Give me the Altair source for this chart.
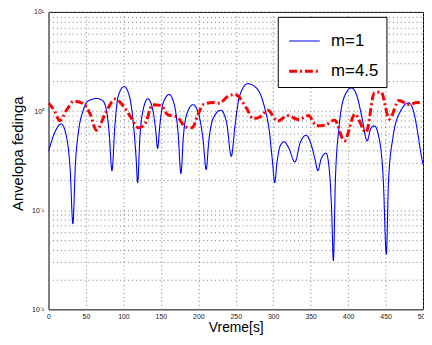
import altair as alt
import pandas as pd

series_names = ["m=1", "m=4.5"]

x_m1 = [0, 8, 17, 24, 29, 32.5, 36, 40, 46, 52, 64, 72, 77, 81, 84.7,
        88.6, 93, 101, 108, 113.6, 117, 119, 122, 126, 132.5, 139, 143, 145.7,
        148.5, 153, 161, 168, 173, 176.8, 180, 185, 193, 201, 206.5, 210.5,
        214, 220, 230, 238, 244, 249, 255, 266, 279.5, 288, 295, 299, 302,
        305, 309, 314.5, 321, 329, 336, 344, 351, 356, 359.7, 364, 370.6,
        375, 378, 380.3, 383, 388, 395, 404.5, 412, 418, 425.5, 430, 435,
        441, 447, 451, 454, 460, 470, 481, 488, 493, 497, 500]
y_m1 = [0.39, 0.60, 0.74, 0.55, 0.25, 0.073, 0.30, 0.62, 1.0, 1.25, 1.34, 1.28, 1.05, 0.6, 0.25,
        0.71, 1.41, 1.77, 1.41, 0.71, 0.33, 0.19, 0.55, 1.0, 1.33, 1.05, 0.65, 0.42,
        0.7, 1.2, 1.47, 1.15, 0.6, 0.234, 0.55, 0.95, 1.16, 0.9, 0.5, 0.257,
        0.5, 0.85, 1.02, 0.75, 0.35, 0.71, 1.41, 1.89, 1.64, 1.12, 0.61, 0.31, 0.19,
        0.3, 0.44, 0.49, 0.42, 0.306, 0.48, 0.57, 0.45, 0.32, 0.25, 0.33, 0.376,
        0.25, 0.1, 0.031, 0.2, 0.7, 1.4, 1.71, 1.4, 0.9, 0.5, 0.66, 0.71,
        0.55, 0.2, 0.036, 0.2, 0.55, 1.0, 1.21, 0.95, 0.6, 0.38, 0.29]

x_m45 = [0, 8, 15, 24, 34, 47, 56, 64, 76, 89, 100, 109, 120, 128, 139, 150,
         159, 172, 183, 192, 199, 207, 220, 228, 240, 249, 264, 273, 282, 293,
         306, 319, 334, 347, 358, 369, 382, 395, 409, 424, 435, 444, 455, 468,
         481, 492, 500]
y_m45 = [1.21, 1.0, 0.8, 1.02, 1.26, 1.18, 0.92, 0.64, 0.95, 1.32, 1.12, 0.89, 0.68, 0.72, 1.16, 1.14,
         0.92, 0.87, 0.69, 0.68, 0.9, 1.17, 1.22, 1.2, 1.42, 1.47, 1.08, 0.84, 0.87, 1.02,
         0.79, 0.9, 0.82, 0.9, 0.71, 0.72, 0.81, 0.50, 0.93, 0.61, 1.52, 1.56, 0.83, 1.28,
         1.16, 1.22, 1.2]

x_ticks = [0, 50, 100, 150, 200, 250, 300, 350, 400, 450, 500]
y_grid = [0.01, 0.02, 0.03, 0.04, 0.05, 0.06, 0.07, 0.08, 0.09,
          0.1, 0.2, 0.3, 0.4, 0.5, 0.6, 0.7, 0.8, 0.9,
          1, 2, 3, 4, 5, 6, 7, 8, 9, 10]

df = pd.concat([
    pd.DataFrame({"t": x_m1, "v": y_m1, "s": series_names[0]}),
    pd.DataFrame({"t": x_m45, "v": y_m45, "s": series_names[1]}),
])

FONT = "Liberation Sans"

leg = dict(title=None, orient="none", legendX=232, legendY=5,
           strokeColor="black", fillColor="white", padding=8,
           labelFontSize=17, labelFont=FONT, labelColor="black",
           symbolSize=961, symbolType="stroke", labelOffset=10,
           rowPadding=5, cornerRadius=0, symbolOffset=2)

label_expr = ("datum.value == 10 ? '10\u00b9' : datum.value == 1 ? '10\u2070' : "
              "datum.value == 0.1 ? '10\u207b\u00b9' : datum.value == 0.01 ? '10\u207b\u00b2' : ''")

chart = alt.Chart(df).mark_line(interpolate="monotone", clip=True, strokeCap="butt").encode(
    x=alt.X("t:Q", scale=alt.Scale(domain=[0, 500], nice=False, zero=False),
            axis=alt.Axis(values=x_ticks, title="Vreme[s]", grid=True, ticks=False,
                          labelPadding=3, labelFontSize=7, labelFont=FONT, labelColor="#222",
                          titleFont=FONT, titleFontSize=14, titleFontWeight="normal",
                          titleY=22, titleBaseline="alphabetic", titleColor="black",
                          domain=False, labelOverlap=False, labelFlush=False)),
    y=alt.Y("v:Q", scale=alt.Scale(type="log", domain=[0.01, 10], nice=False),
            axis=alt.Axis(values=y_grid, labelExpr=label_expr, title="Anvelopa fedinga",
                          grid=True, ticks=False, labelPadding=5, labelFontSize=7,
                          labelFont=FONT, labelColor="#222", titleFont=FONT,
                          titleFontSize=15, titleFontWeight="normal", titleColor="black",
                          titleX=-26.6, titleY=143, titleBaseline="alphabetic",
                          domain=False, labelOverlap=False, labelFlush=False)),
    color=alt.Color("s:N", scale=alt.Scale(domain=series_names, range=["#0000ff", "#ff0000"]),
                    legend=alt.Legend(**leg)),
    strokeDash=alt.StrokeDash("s:N", scale=alt.Scale(domain=series_names, range=[[1, 0], [8, 3, 2, 3]]),
                              legend=alt.Legend(**leg)),
    strokeWidth=alt.StrokeWidth("s:N", scale=alt.Scale(domain=series_names, range=[1.1, 3]),
                                legend=alt.Legend(**leg)),
).properties(
    width=379, height=301,
    autosize=alt.AutoSizeParams(type="none"),
    padding={"left": 41, "top": 2, "right": 1, "bottom": 24},
    background="white",
).configure_view(
    stroke="black", strokeWidth=1
).configure_axis(
    gridColor="#777", gridDash=[1, 3], gridWidth=1, gridOpacity=1
)

chart.save("out.html", embed_options={"renderer": "svg", "actions": False})
